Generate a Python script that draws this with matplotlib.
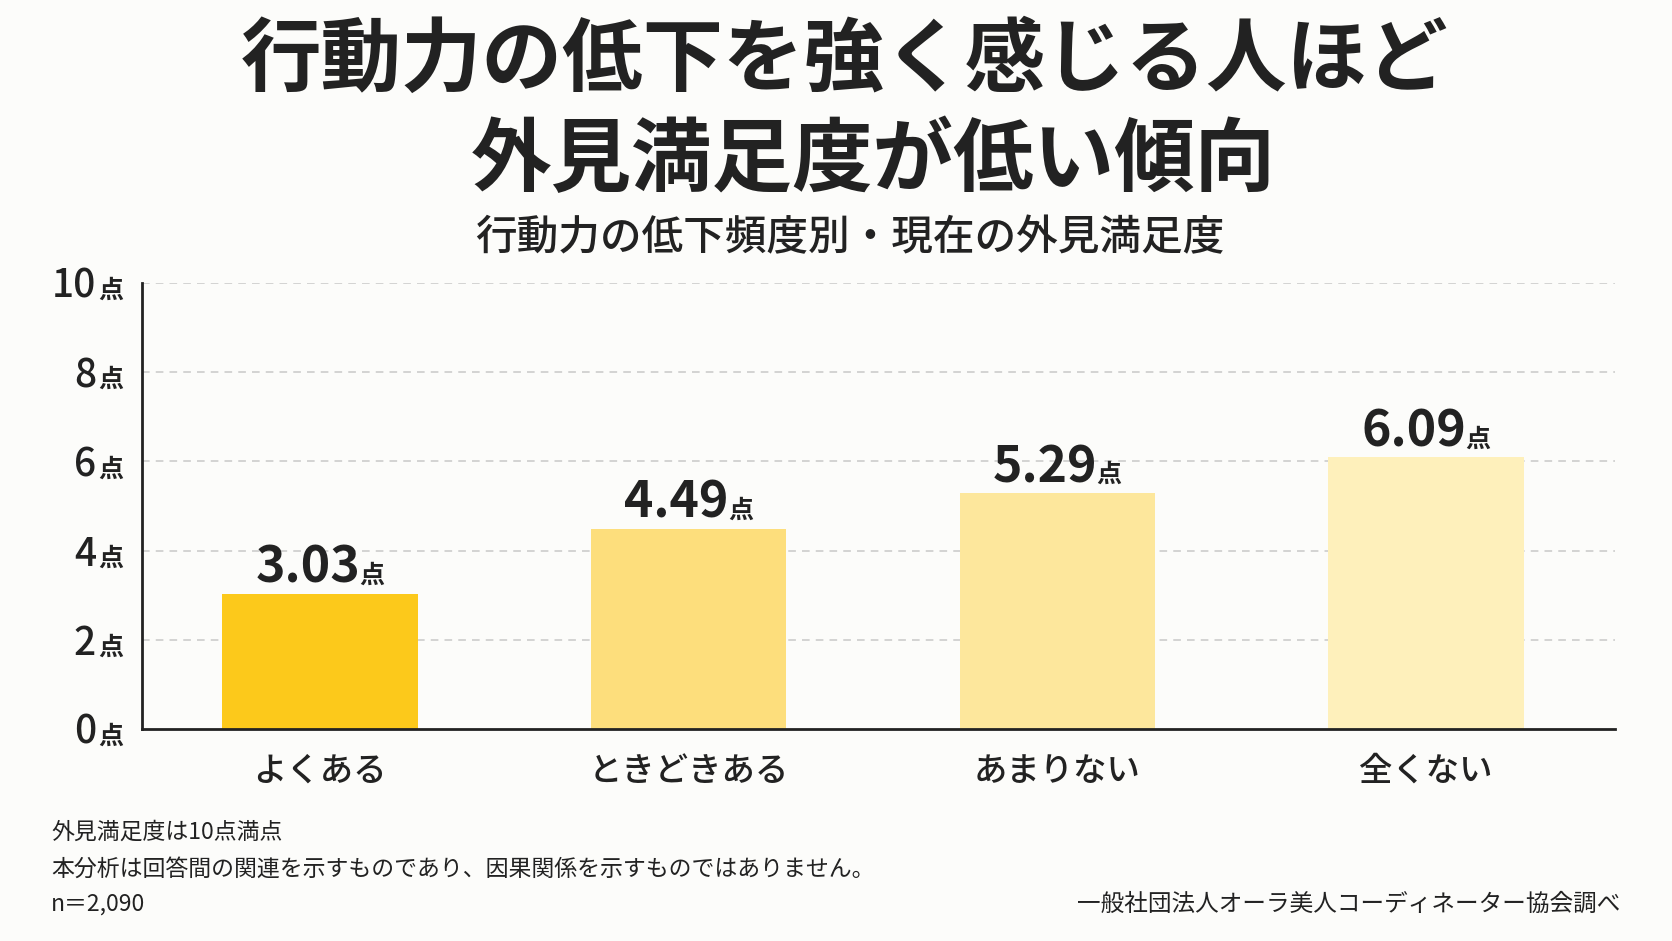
import matplotlib
matplotlib.use("Agg")
import matplotlib.pyplot as plt
from matplotlib.transforms import offset_copy

plt.rcParams['font.family'] = ['Noto Sans CJK JP', 'DejaVu Sans']

# =====================================================================
# Data
# =====================================================================
categories = ['よくある', 'ときどきある', 'あまりない', '全くない']
scores = [3.03, 4.49, 5.29, 6.09]
yticks = [0, 2, 4, 6, 8, 10]
bar_colors = ['#FCC91B', '#FDDE7C', '#FDE79C', '#FEF0BB']

title = '行動力の低下を強く感じる人ほど\n外見満足度が低い傾向'
subtitle = '行動力の低下頻度別・現在の外見満足度'
notes = ['外見満足度は10点満点',
         '本分析は回答間の関連を示すものであり、因果関係を示すものではありません。',
         'n＝2,090']
source = '一般社団法人オーラ美人コーディネーター協会調べ'

TXT = '#222222'
BG = '#FCFCFA'

# =====================================================================
# Figure
# =====================================================================
fig = plt.figure(figsize=(16.72, 9.41), dpi=100, facecolor=BG)
ax = fig.add_axes([0.0849, 0.2253, 0.8810, 0.4740], facecolor=BG)

x = list(range(len(categories)))
ax.bar(x, scores, width=0.53, color=bar_colors, zorder=3)

ax.set_xlim(-0.483, 3.513)
ax.set_ylim(0, 10)
ax.set_yticks(yticks)
ax.set_yticklabels([])
ax.tick_params(axis='y', length=0)
ax.set_xticks(x)
ax.set_xticklabels(categories, fontsize=24, color=TXT, fontweight='medium')
ax.tick_params(axis='x', length=0, pad=18)

for s in ['top', 'right']:
    ax.spines[s].set_visible(False)
for s in ['left', 'bottom']:
    ax.spines[s].set_linewidth(2)
    ax.spines[s].set_color('#222222')
    ax.spines[s].set_zorder(4)

for yv in yticks[1:]:
    ax.axhline(yv, color='#C8C8C8', linestyle=(0, (5, 4)), linewidth=1.1, zorder=1)

# y tick labels: number + small 点
ytr = ax.get_yaxis_transform()
for yv in yticks:
    ax.text(0, yv, str(yv), fontsize=28, color=TXT, ha='right', va='baseline',
            fontweight='medium',
            transform=offset_copy(ytr, fig=fig, x=-46, y=-15, units='dots'))
    ax.text(0, yv, '点', fontsize=18, color=TXT, ha='left', va='baseline',
            fontweight='bold',
            transform=offset_copy(ytr, fig=fig, x=-44, y=-15, units='dots'))

# value labels: number + small 点, centred on bar
fig.canvas.draw()
renderer = fig.canvas.get_renderer()
gap = -1
for xi, v in zip(x, scores):
    num = ax.text(xi, v, f'{v:.2f}', fontsize=36, color=TXT, fontweight='bold',
                  ha='left', va='baseline')
    pt = ax.text(xi, v, '点', fontsize=18, color=TXT, fontweight='bold',
                 ha='left', va='baseline')
    wn = num.get_window_extent(renderer).width
    wp = pt.get_window_extent(renderer).width
    total = wn + gap + wp
    num.set_transform(offset_copy(ax.transData, fig=fig, x=-total / 2, y=11, units='dots'))
    pt.set_transform(offset_copy(ax.transData, fig=fig, x=-total / 2 + wn + gap, y=11,
                                 units='dots'))

# titles
line1, line2 = title.split('\n')
fig.text(0.505, 0.935, line1, fontsize=58, fontweight='bold', color=TXT,
         ha='center', va='center')
fig.text(0.522, 0.828, line2, fontsize=58, fontweight='bold', color=TXT,
         ha='center', va='center')
fig.text(0.508, 0.747, subtitle, fontsize=30, fontweight='medium', color=TXT,
         ha='center', va='center')

# footnotes
for yy, t in zip([0.116, 0.0765, 0.039], notes):
    fig.text(0.0305, yy, t, fontsize=16.5, color=TXT, ha='left', va='center')
fig.text(0.969, 0.039, source, fontsize=17, color=TXT, ha='right', va='center')

fig.savefig('out.png', dpi=100, facecolor=BG)
